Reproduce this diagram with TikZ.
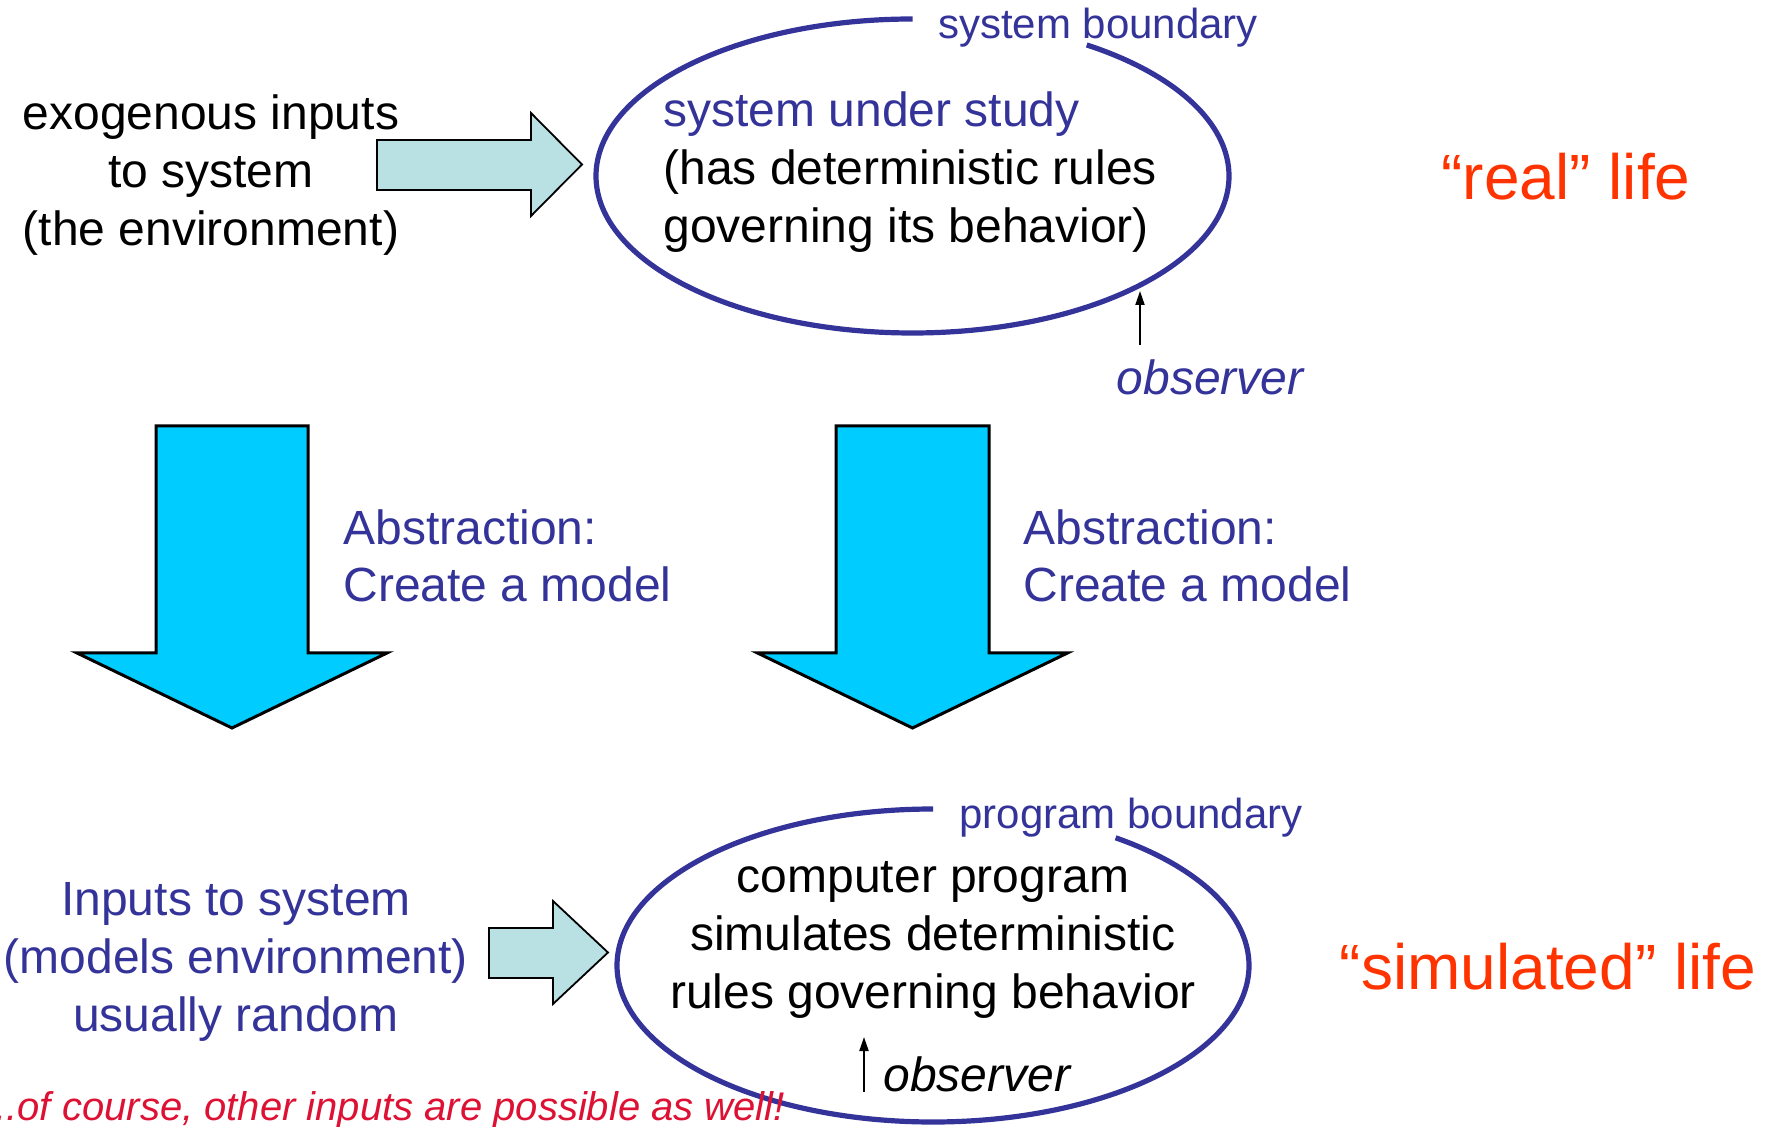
\documentclass[tikz,border=0pt]{standalone}
\usepackage{fontspec}
\setmainfont{Liberation Sans}
\usetikzlibrary{arrows.meta}
\definecolor{navy}{HTML}{333399}
\definecolor{flame}{HTML}{FF3300}
\definecolor{crimson}{HTML}{DD1133}
\definecolor{paleaqua}{HTML}{B9E1E3}
\definecolor{skyfill}{HTML}{00CCFF}
\begin{document}
\begin{tikzpicture}[x=0.5pt,y=-0.5pt,
  body/.style={font=\fontsize{24}{28.8}\selectfont, inner sep=0pt, align=center},
  tag/.style={font=\fontsize{21}{25}\selectfont, inner sep=0pt, text=navy},
  obs/.style={font=\fontsize{24}{28.8}\selectfont\itshape, inner sep=0pt},
  life/.style={font=\fontsize{32}{38}\selectfont, inner sep=0pt, text=flame},
  boundary/.style={draw=navy, line width=2.6pt},
  bigarrow/.style={draw=black, line width=1.5pt, fill=skyfill, line join=miter},
  inarrow/.style={draw=black, line width=0.9pt, fill=paleaqua, line join=miter},
  look/.style={draw=black, line width=1pt, -{Triangle[length=7pt,width=4.5pt]}}]
\useasboundingbox (0,0) rectangle (1771,1127);

% ---------- real life ----------
\node[body] (env) at (211,175) {exogenous inputs\\to system\\(the environment)};
\draw[inarrow] (377,140) -- (531,140) -- (531,113) -- (582,164.5) -- (531,216) -- (531,190) -- (377,190) -- cycle;

\coordinate (sysTop) at (912.5,19);
\draw[boundary] (sysTop) arc[start angle=-90, end angle=-416.6, x radius=316.5, y radius=157];
\node[tag] (sysb) at (1098,28) {system boundary};
\node[body, align=left, anchor=west] (sys) at (663,172)
  {\textcolor{navy}{system under study}\\(has deterministic rules\\governing its behavior)};

\node[obs, text=navy] (obs1) at (1210,377) {observer};
\coordinate (obs1foot) at (1140,345);
\coordinate (obs1tip) at (1140,291);
\draw[look] (obs1foot) -- (obs1tip);

\node[life] (real) at (1566,177) {“real” life};

% ---------- abstraction ----------
\draw[bigarrow] (156,426) -- (308,426) -- (308,653) -- (387,653) -- (232,728) -- (77,653) -- (156,653) -- cycle;
\node[body, align=left, anchor=west, text=navy] (absL) at (343,556) {Abstraction:\\Create a model};
\draw[bigarrow] (836,426) -- (989,426) -- (989,653) -- (1067.5,653) -- (912.5,728) -- (757.5,653) -- (836,653) -- cycle;
\node[body, align=left, anchor=west, text=navy] (absR) at (1023,556) {Abstraction:\\Create a model};

% ---------- simulated life ----------
\node[body, text=navy] (inp) at (236,962) {Inputs to system\\(models environment)\\usually random};
\draw[inarrow] (489,928) -- (553,928) -- (553,901) -- (608,952.5) -- (553,1004) -- (553,978) -- (489,978) -- cycle;

\coordinate (progTop) at (933,809);
\draw[boundary] (progTop) arc[start angle=-90, end angle=-414.7, x radius=316, y radius=156.5];
\node[tag] (progb) at (1131,818) {program boundary};
\node[body] (prog) at (933,940) {computer program\\simulates deterministic\\rules governing behavior};

\node[obs, anchor=west] (obs2) at (883,1074) {observer};
\coordinate (obs2foot) at (864,1092);
\coordinate (obs2tip) at (864,1037);
\draw[look] (obs2foot) -- (obs2tip);

\node[life] (sim) at (1548,967) {“simulated” life};

\node[font=\fontsize{20}{24}\selectfont\itshape, text=crimson, inner sep=0pt, anchor=base west]
  (note) at (-16,1120) {...of course, other inputs are possible as well!};
\end{tikzpicture}
\end{document}
